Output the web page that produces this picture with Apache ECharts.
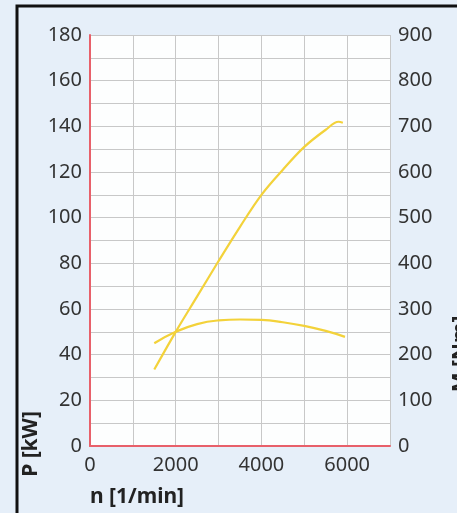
<!DOCTYPE html>
<html>
<head>
<meta charset="utf-8">
<script src="https://cdn.jsdelivr.net/npm/echarts@6/dist/echarts.min.js"></script>
<style>
html,body{margin:0;padding:0;background:#e6eff9;}
#c{width:457px;height:513px;}
</style>
</head>
<body>
<div id="c"></div>
<script>
// data
var powerRpm = [1500, 2000, 2500, 3000, 3500, 4000, 4500, 5000, 5500, 5800, 5900];
var powerKW  = [33.5, 50, 65.5, 81, 96, 110, 121, 131, 138.5, 142, 141.6];
var torqueRpm = [1500, 2000, 2500, 3000, 3500, 4000, 4500, 5000, 5500, 5950];
var torqueNm  = [225, 250, 267, 275, 277, 276, 271, 263, 252, 239];
var xLabels = [0, 2000, 4000, 6000];
var leftLabels = [0, 20, 40, 60, 80, 100, 120, 140, 160, 180];
var rightLabels = [0, 100, 200, 300, 400, 500, 600, 700, 800, 900];

function pairs(xs, ys){ return xs.map(function(x,i){ return [x, ys[i]]; }); }

var labelFont = 'Noto Sans';
var labelColor = '#333';
var curveColor = '#f3d23a';

var chart = echarts.init(document.getElementById('c'));
chart.setOption({
  backgroundColor: '#e6eff9',
  animation: false,
  grid: { left: 90, right: 67, top: 35, bottom: 67, show: true, backgroundColor: '#fdfefe', borderWidth: 0 },
  xAxis: {
    type: 'value', min: 0, max: 7000, interval: 1000,
    axisLine: { show: true, lineStyle: { color: '#e8606a', width: 2 } },
    axisTick: { show: false },
    splitLine: { show: true, lineStyle: { color: '#c8c8c8', width: 1 } },
    axisLabel: {
      margin: 9, fontSize: 20, fontFamily: labelFont, color: labelColor,
      formatter: function(v){ return xLabels.indexOf(v) >= 0 ? String(v) : ''; }
    }
  },
  yAxis: [{
    type: 'value', min: 0, max: 180, interval: 10,
    axisLine: { show: true, onZero: false, lineStyle: { color: '#e8606a', width: 2 } },
    axisTick: { show: false },
    splitLine: { show: true, lineStyle: { color: '#c8c8c8', width: 1 } },
    axisLabel: {
      margin: 8, fontSize: 20, fontFamily: labelFont, color: labelColor,
      formatter: function(v){ return leftLabels.indexOf(v) >= 0 ? String(v) : ''; }
    }
  }, {
    type: 'value', min: 0, max: 900, interval: 50, position: 'right',
    axisLine: { show: false },
    axisTick: { show: false },
    splitLine: { show: false },
    axisLabel: {
      margin: 8, fontSize: 20, fontFamily: labelFont, color: labelColor,
      formatter: function(v){ return rightLabels.indexOf(v) >= 0 ? String(v) : ''; }
    }
  }],
  series: [{
    type: 'line', yAxisIndex: 0, smooth: 0.35, showSymbol: false,
    lineStyle: { color: curveColor, width: 2.2 },
    data: pairs(powerRpm, powerKW)
  }, {
    type: 'line', yAxisIndex: 1, smooth: 0.5, showSymbol: false,
    lineStyle: { color: curveColor, width: 2.2 },
    data: pairs(torqueRpm, torqueNm)
  }],
  graphic: [
    { type: 'rect', z: 100, shape: { x: 17, y: 6, width: 470, height: 530 }, style: { fill: 'none', stroke: '#111', lineWidth: 3 } },
    { type: 'text', z: 100, x: 31, y: 444, rotation: Math.PI / 2,
      style: { text: 'P [kW]', fontSize: 21, fontWeight: 'bold', fontFamily: labelFont, fill: '#222', align: 'center', verticalAlign: 'middle' } },
    { type: 'text', z: 100, x: 137, y: 497,
      style: { text: 'n [1/min]', fontSize: 21, fontWeight: 'bold', fontFamily: labelFont, fill: '#222', align: 'center', verticalAlign: 'middle' } },
    { type: 'text', z: 100, x: 461, y: 354, rotation: Math.PI / 2,
      style: { text: 'M [Nm]', fontSize: 21, fontWeight: 'bold', fontFamily: labelFont, fill: '#222', align: 'center', verticalAlign: 'middle' } }
  ]
});
</script>
</body>
</html>
